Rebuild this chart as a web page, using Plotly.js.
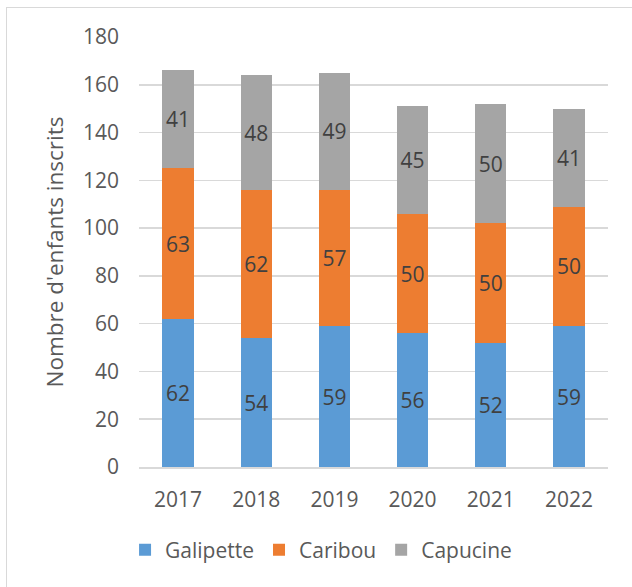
<!DOCTYPE html>
<html><head><meta charset="utf-8">
<script src="https://cdn.plot.ly/plotly-3.0.1.min.js"></script>
<style>
html,body{margin:0;padding:0;background:#fff;}
#frame{position:absolute;left:6px;top:7px;width:640px;height:600px;border-left:1.5px solid #d9d9d9;border-top:1.5px solid #d9d9d9;box-sizing:border-box;}
#chart{position:absolute;left:0;top:0;width:632px;height:587px;}
</style></head>
<body>
<div id="frame"></div>
<div id="chart"></div>
<script>
const years = ['2017','2018','2019','2020','2021','2022'];
const galipette = [62,54,59,56,52,59];
const caribou = [63,62,57,50,50,50];
const capucine = [41,48,49,45,50,41];
const yTicks = [0,20,40,60,80,100,120,140,160,180];

const font = 'Open Sans, sans-serif';
function series(name, vals, color){
  return {type:'bar', name:name, x:years, y:vals, marker:{color:color, line:{width:0}},
    text:vals.map(String), textposition:'inside', insidetextanchor:'middle',
    textfont:{family:font, size:21, color:'#404040'}, hoverinfo:'none', constraintext:'none'};
}
const data = [
  series('Galipette', galipette, '#5B9BD5'),
  series('Caribou', caribou, '#ED7D31'),
  series('Capucine', capucine, '#A5A5A5')
];
const layout = {
  width:632, height:587, barmode:'stack', bargap:0.6,
  paper_bgcolor:'rgba(0,0,0,0)', plot_bgcolor:'rgba(0,0,0,0)',
  margin:{l:139, r:24, t:37, b:120},
  font:{family:font, size:21, color:'#595959'},
  showlegend:true,
  legend:{orientation:'h', x:0.508, xref:'container', xanchor:'center', y:0.063, yref:'container', yanchor:'middle',
    font:{family:font, size:21, color:'#595959'}, traceorder:'normal'},
  xaxis:{type:'category', showgrid:false, showline:true, linecolor:'#d9d9d9', linewidth:1.5,
    ticks:'', ticklabelstandoff:13, tickfont:{family:font, size:21, color:'#595959'}, fixedrange:true},
  yaxis:{range:[0,180], tickvals:yTicks, ticktext:yTicks.map(String), showgrid:true, gridcolor:'#d9d9d9', gridwidth:1.5,
    zeroline:false, showline:false, ticks:'', ticklabelstandoff:19,
    tickfont:{family:font, size:21, color:'#595959'},
    title:{text:"Nombre d'enfants inscrits", font:{family:font, size:22.5, color:'#595959'}, standoff:13}, fixedrange:true}
};
Plotly.newPlot('chart', data, layout, {displayModeBar:false, staticPlot:true});
</script>
</body></html>
